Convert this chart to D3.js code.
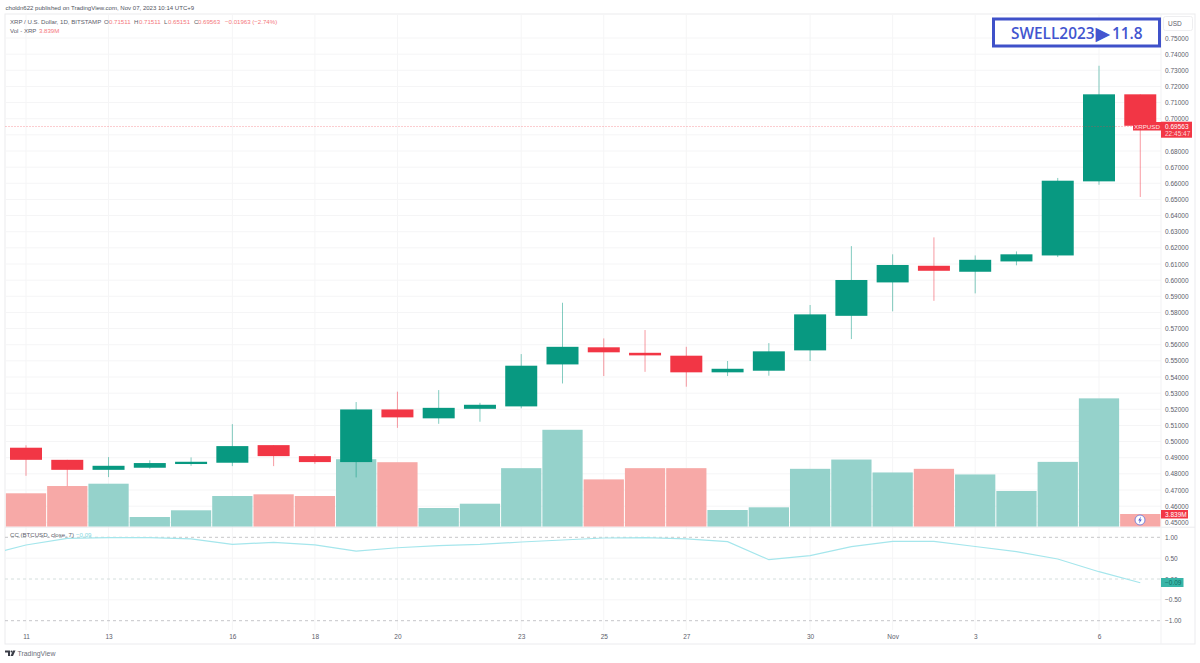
<!DOCTYPE html>
<html lang="en">
<head>
    <meta charset="UTF-8">
    <title>XRP / U.S. Dollar, 1D</title>
    <script src="https://d3js.org/d3.v7.min.js"></script>
    <style>
        html, body { margin: 0; padding: 0; background: #fff; }
        svg { display: block; font-family: "Liberation Sans", Arial, sans-serif; }
        .axis path, .axis line { display: none; }
        .axis text { font-size: 6.5px; fill: #5d606b; font-family: "Liberation Sans", Arial, sans-serif; }
        .legend { font-size: 6.1px; fill: #5d606b; }
        .red { fill: #f4777c; }
        .grid { stroke: #f5f5f6; stroke-width: 1; }
    </style>
</head>
<body>
    <svg width="1200" height="663"></svg>
    <script>
        // Oct 11 .. Nov 7 2023
        var opens = [0.4962, 0.4887, 0.4825, 0.4838, 0.4861, 0.4869, 0.4978, 0.4910, 0.4873, 0.5199, 0.5144, 0.5203, 0.5218, 0.5478, 0.5584, 0.5550, 0.5532, 0.5429, 0.5439, 0.5565, 0.5779, 0.5986, 0.6089, 0.6052, 0.6116, 0.6153, 0.6612, 0.71511];
        var highs = [0.4977, 0.4887, 0.4904, 0.4884, 0.4902, 0.5108, 0.4978, 0.4923, 0.5245, 0.5309, 0.5319, 0.5240, 0.5542, 0.5860, 0.5639, 0.5691, 0.5587, 0.5499, 0.5610, 0.5846, 0.6211, 0.6160, 0.6265, 0.6153, 0.6178, 0.6633, 0.7328, 0.71511];
        var lows = [0.4788, 0.4724, 0.4780, 0.4832, 0.4850, 0.4848, 0.4848, 0.4862, 0.4778, 0.5085, 0.5110, 0.5123, 0.5206, 0.5360, 0.5406, 0.5432, 0.5340, 0.5406, 0.5408, 0.5499, 0.5635, 0.5807, 0.5872, 0.5918, 0.6092, 0.6143, 0.6591, 0.65151];
        var closes = [0.4887, 0.4825, 0.4850, 0.4867, 0.4875, 0.4972, 0.4910, 0.4873, 0.5199, 0.5150, 0.5209, 0.5228, 0.5470, 0.5587, 0.5553, 0.5534, 0.5429, 0.5451, 0.5559, 0.5788, 0.6001, 0.6094, 0.6058, 0.6126, 0.6160, 0.6616, 0.71511, 0.69563];
        var volumes = [10.1, 12.3, 13.0, 2.93, 4.96, 9.28, 9.79, 9.28, 20.4, 19.5, 5.65, 6.95, 17.7, 29.3, 14.3, 17.7, 17.7, 5.05, 5.86, 17.5, 20.3, 16.4, 17.5, 15.8, 10.8, 19.6, 38.8, 3.839];
        // correlation line, first entry is the day before the first candle (cut off by the pane)
        var ccValues = [0.56, 0.815, 0.975, 0.99, 0.99, 0.96, 0.83, 0.88, 0.82, 0.67, 0.75, 0.80, 0.83, 0.887, 0.935, 0.983, 0.99, 0.96, 0.895, 0.463, 0.56, 0.775, 0.90, 0.90, 0.78, 0.655, 0.48, 0.175, -0.09];
        var timeTickIndex = [0, 2, 5, 7, 9, 12, 14, 16, 19, 21, 23, 26];
        var timeTickLabels = ["11", "13", "16", "18", "20", "23", "25", "27", "30", "Nov", "3", "6"];
        var ccTicks = [1, 0.5, 0, -0.5, -1];
        var ccDashed = [1, 0, -1];
        var lastPrice = 0.69563;

        var frame = {left: 5, right: 1195, top: 14, bottom: 644},
            paneRight = 1161,
            mainBottom = 526.7,
            ccBottom = 630;

        var x = d3.scaleLinear().domain([0, 26]).range([26, 1099]),
            y = d3.scaleLinear().domain([0.45, 0.75]).range([522.3, 38]),
            yVol = d3.scaleLinear().domain([0, 40]).range([mainBottom, 394.4]),
            yCC = d3.scaleLinear().domain([-1, 1]).range([620.7, 537.3]);

        var step = x(1) - x(0),
            priceTicks = d3.range(45, 76).map(function(d) { return d / 100; });

        var green = "#089981", red = "#f23645";

        var svg = d3.select("svg");

        var defs = svg.append("defs");
        defs.append("clipPath").attr("id", "pane")
          .append("rect")
            .attr("x", frame.left).attr("y", frame.top)
            .attr("width", paneRight - frame.left).attr("height", mainBottom - frame.top);
        defs.append("clipPath").attr("id", "ccpane")
          .append("rect")
            .attr("x", frame.left).attr("y", mainBottom)
            .attr("width", paneRight - frame.left).attr("height", ccBottom - mainBottom);

        // header
        svg.append("text")
            .attr("x", 5.5).attr("y", 9.6)
            .style("font-size", "6.05px").style("fill", "#50535e")
            .text("choldn622 published on TradingView.com, Nov 07, 2023 10:14 UTC+9");

        // frame
        svg.append("rect")
            .attr("x", frame.left).attr("y", frame.top)
            .attr("width", frame.right - frame.left).attr("height", frame.bottom - frame.top)
            .attr("fill", "none").attr("stroke", "#ebebee");

        // grid
        var grid = svg.append("g").attr("class", "grid-layer");
        grid.selectAll(".h")
            .data(priceTicks)
          .enter().append("line")
            .attr("class", "grid")
            .attr("x1", frame.left).attr("x2", paneRight)
            .attr("y1", function(d) { return y(d); })
            .attr("y2", function(d) { return y(d); });
        grid.selectAll(".v")
            .data(timeTickIndex)
          .enter().append("line")
            .attr("class", "grid")
            .attr("x1", function(d) { return x(d); })
            .attr("x2", function(d) { return x(d); })
            .attr("y1", frame.top).attr("y2", ccBottom);
        grid.selectAll(".cc")
            .data(ccTicks.filter(function(d) { return ccDashed.indexOf(d) < 0; }))
          .enter().append("line")
            .attr("class", "grid")
            .attr("x1", frame.left).attr("x2", paneRight)
            .attr("y1", function(d) { return yCC(d); })
            .attr("y2", function(d) { return yCC(d); });

        // pane separators
        svg.append("line")
            .attr("x1", frame.left).attr("x2", frame.right)
            .attr("y1", mainBottom + 0.5).attr("y2", mainBottom + 0.5)
            .attr("stroke", "#ebebee");
        svg.append("line")
            .attr("x1", paneRight).attr("x2", paneRight)
            .attr("y1", frame.top).attr("y2", frame.bottom)
            .attr("stroke", "#f1f1f3");

        // volume bars
        svg.append("g").attr("clip-path", "url(#pane)")
            .selectAll("rect")
            .data(volumes)
          .enter().append("rect")
            .attr("x", function(d, i) { return x(i) - step / 2 + 0.5; })
            .attr("width", step - 1)
            .attr("y", function(d) { return yVol(d); })
            .attr("height", function(d) { return yVol(0) - yVol(d); })
            .attr("fill", function(d, i) { return closes[i] >= opens[i] ? "#95d2cb" : "#f7a9a7"; });

        // candles
        var candles = svg.append("g").attr("clip-path", "url(#pane)")
            .selectAll("g")
            .data(opens)
          .enter().append("g");
        candles.append("line")
            .attr("x1", function(d, i) { return x(i); })
            .attr("x2", function(d, i) { return x(i); })
            .attr("y1", function(d, i) { return y(highs[i]); })
            .attr("y2", function(d, i) { return y(lows[i]); })
            .attr("stroke", function(d, i) { return closes[i] >= opens[i] ? green : red; })
            .attr("stroke-opacity", 0.5)
            .attr("stroke-width", 1);
        candles.append("rect")
            .attr("x", function(d, i) { return x(i) - 16; })
            .attr("width", 32)
            .attr("y", function(d, i) { return y(Math.max(opens[i], closes[i])); })
            .attr("height", function(d, i) { return Math.abs(y(opens[i]) - y(closes[i])); })
            .attr("fill", function(d, i) { return closes[i] >= opens[i] ? green : red; });

        // last price line
        svg.append("line")
            .attr("x1", frame.left).attr("x2", paneRight)
            .attr("y1", Math.round(y(lastPrice)) + 0.5).attr("y2", Math.round(y(lastPrice)) + 0.5)
            .attr("stroke", red).attr("stroke-opacity", 0.25)
            .attr("stroke-dasharray", "2 1");

        // CC dashed levels
        svg.append("g").selectAll("line")
            .data(ccDashed)
          .enter().append("line")
            .attr("x1", frame.left).attr("x2", paneRight)
            .attr("y1", function(d) { return yCC(d); })
            .attr("y2", function(d) { return yCC(d); })
            .attr("stroke", function(d) { return d === 0 ? "#d4dedd" : "#c6c6c9"; })
            .attr("stroke-dasharray", "3 3");

        // CC line
        var ccLine = d3.line()
            .x(function(d, i) { return x(i - 1); })
            .y(function(d) { return yCC(d); });
        svg.append("path")
            .datum(ccValues)
            .attr("clip-path", "url(#ccpane)")
            .attr("d", ccLine)
            .attr("fill", "none")
            .attr("stroke", "#a5e6ec")
            .attr("stroke-width", 1.2);

        // axes
        svg.append("g")
            .attr("class", "axis")
            .attr("transform", "translate(1161,0)")
            .call(d3.axisRight(y).tickValues(priceTicks).tickFormat(d3.format(".5f")).tickSize(0).tickPadding(4));
        svg.append("g")
            .attr("class", "axis")
            .attr("transform", "translate(1161,0)")
            .call(d3.axisRight(yCC).tickValues(ccTicks).tickFormat(d3.format(".2f")).tickSize(0).tickPadding(4));
        svg.append("g")
            .attr("class", "axis")
            .attr("transform", "translate(0,631)")
            .call(d3.axisBottom(x).tickValues(timeTickIndex)
                .tickFormat(function(d, i) { return timeTickLabels[i]; })
                .tickSize(0).tickPadding(3));

        // USD button
        svg.append("rect")
            .attr("x", 1163.5).attr("y", 16.5).attr("width", 29).attr("height", 14).attr("rx", 2)
            .attr("fill", "#fff").attr("stroke", "#eeeef0");
        svg.append("text")
            .attr("x", 1168).attr("y", 26)
            .style("font-size", "6.5px").style("fill", "#5d606b")
            .text("USD");

        // price tags
        svg.append("rect")
            .attr("x", 1133).attr("y", 122).attr("width", 28).attr("height", 8.5).attr("fill", red);
        svg.append("text")
            .attr("x", 1147).attr("y", 128.6).attr("text-anchor", "middle")
            .style("font-size", "6.2px").style("fill", "#fde3e5")
            .text("XRPUSD");
        svg.append("rect")
            .attr("x", 1161).attr("y", 121.7).attr("width", 31).attr("height", 16).attr("fill", red);
        svg.append("text")
            .attr("x", 1165).attr("y", 128.6)
            .style("font-size", "6.5px").style("fill", "#fff")
            .text(d3.format(".5f")(lastPrice));
        svg.append("text")
            .attr("x", 1165).attr("y", 136)
            .style("font-size", "6.5px").style("fill", "#fcd5d8")
            .text("22:45:47");

        svg.append("rect")
            .attr("x", 1161).attr("y", 510).attr("width", 27).attr("height", 8.5).attr("fill", red);
        svg.append("text")
            .attr("x", 1165).attr("y", 516.6)
            .style("font-size", "6.5px").style("fill", "#fff")
            .text("3.839M");

        svg.append("rect")
            .attr("x", 1161).attr("y", 578).attr("width", 22.5).attr("height", 9).attr("fill", "#38b5a8");
        svg.append("text")
            .attr("x", 1165).attr("y", 585)
            .style("font-size", "6.5px").style("fill", "#0f6e64")
            .text(d3.format(".2f")(ccValues[ccValues.length - 1]));

        // legend lines
        var legend1 = svg.append("text").attr("class", "legend").attr("y", 24);
        legend1.append("tspan").attr("x", 10).text("XRP / U.S. Dollar, 1D, BITSTAMP");
        legend1.append("tspan").attr("x", 104).text("O");
        legend1.append("tspan").attr("class", "red").attr("x", 109).text("0.71511");
        legend1.append("tspan").attr("x", 134).text("H");
        legend1.append("tspan").attr("class", "red").attr("x", 139).text("0.71511");
        legend1.append("tspan").attr("x", 164).text("L");
        legend1.append("tspan").attr("class", "red").attr("x", 168).text("0.65151");
        legend1.append("tspan").attr("x", 194).text("C");
        legend1.append("tspan").attr("class", "red").attr("x", 198).text("0.69563");
        legend1.append("tspan").attr("class", "red").attr("x", 225).text("\u22120.01963 (\u22122.74%)");

        var legend2 = svg.append("text").attr("class", "legend").attr("y", 33);
        legend2.append("tspan").attr("x", 10).text("Vol - XRP");
        legend2.append("tspan").attr("class", "red").attr("x", 39).text("3.839M");

        var legend3 = svg.append("text").attr("class", "legend").attr("y", 537.3);
        legend3.append("tspan").attr("x", 10).text("CC (BTCUSD, close, 7)");
        legend3.append("tspan").style("fill", "#7fd8e0").attr("x", 76).text("\u22120.09");

        // annotation box
        svg.append("rect")
            .attr("x", 993.5).attr("y", 19).attr("width", 166).attr("height", 27)
            .attr("fill", "#fff").attr("stroke", "#3f51c9").attr("stroke-width", 3);
        var note = svg.append("text").attr("y", 38.5)
            .style("font-family", "'Open Sans', sans-serif")
            .style("font-weight", 600).style("font-size", "15.4px").style("fill", "#4355cf");
        note.append("tspan").attr("x", 1011).text("SWELL2023");
        note.append("tspan").attr("x", 1095.5).attr("dy", 1)
            .style("font-family", "'DejaVu Sans', sans-serif").style("font-size", "19px")
            .text("\u25B6");
        note.append("tspan").attr("x", 1112).attr("dy", -1).text("11.8");

        // lightning badge
        svg.append("circle")
            .attr("cx", 1140).attr("cy", 520).attr("r", 5)
            .attr("fill", "#fff").attr("stroke", "#7b84d8").attr("stroke-width", 1);
        svg.append("path")
            .attr("d", "M1141 516.5 L1138.2 520.6 L1139.8 520.6 L1139 523.5 L1141.8 519.4 L1140.2 519.4 Z")
            .attr("fill", "#4355cf");

        // TradingView mark
        svg.append("path")
            .attr("d", "M5 650.5 H10 V656 H8 V652.5 H5 Z M13 650.5 H15.5 L13 656 H10.5 Z")
            .attr("fill", "#3a3d47");
        svg.append("circle").attr("cx", 11.5).attr("cy", 651.6).attr("r", 1).attr("fill", "#3a3d47");
        svg.append("text")
            .attr("x", 17.5).attr("y", 655.6)
            .style("font-size", "6.9px").style("fill", "#6a6d78")
            .text("TradingView");
    </script>
</body>
</html>
